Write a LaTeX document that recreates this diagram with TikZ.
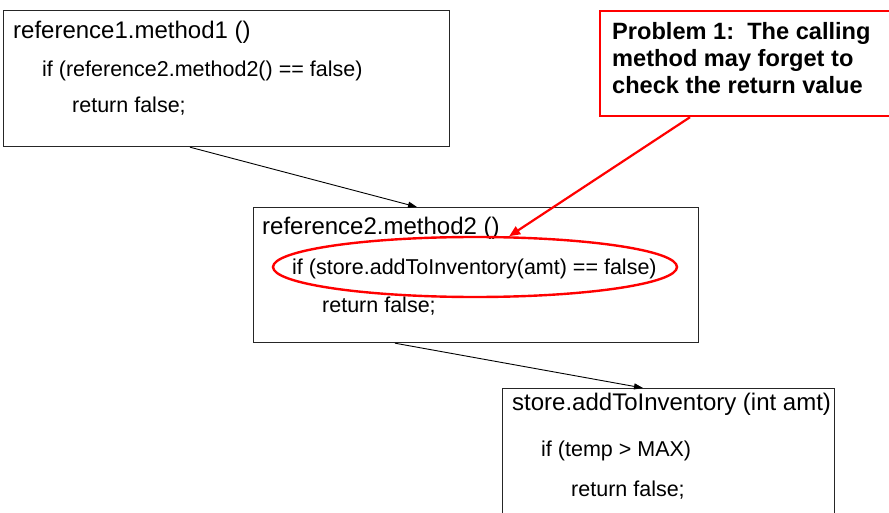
\documentclass[tikz,border=0pt]{standalone}
\usepackage{fontspec}
\setmainfont{Liberation Sans}
\usetikzlibrary{shapes.geometric,arrows.meta}
\begin{document}
\begin{tikzpicture}[x=1pt,y=-1pt,
  codebox/.style={draw=black!85, line width=1.2pt, anchor=north west, inner sep=0pt, rectangle},
  probbox/.style={draw=red, line width=2.2pt, anchor=north west, inner sep=0pt, rectangle},
  headtxt/.style={anchor=base west, inner sep=0pt, font=\fontsize{24}{28}\selectfont},
  codetxt/.style={anchor=base west, inner sep=0pt, font=\fontsize{21.5}{26}\selectfont},
  probtxt/.style={anchor=base west, inner sep=0pt, font=\fontsize{23.6}{28}\selectfont\bfseries},
  callarr/.style={draw=black, line width=0.9pt, -{Triangle[length=9pt,width=6pt]}},
  redarr/.style={draw=red, line width=2.2pt, -{Triangle[length=11pt,width=9pt]}},
  ring/.style={ellipse, draw=red, line width=2.4pt, inner sep=0pt}
]
\useasboundingbox (0,0) rectangle (889,513);
% boxes
\node[codebox, minimum width=446pt, minimum height=136pt] (b1) at (3,10) {};
\node[codebox, minimum width=445pt, minimum height=135pt] (b2) at (253,207) {};
\node[codebox, minimum width=332pt, minimum height=140pt] (b3) at (502,388) {};
\node[probbox, minimum width=300pt, minimum height=105pt] (pb) at (599,10) {};
% box 1 text
\node[headtxt] (b1h) at (13,39) {reference1.method1 ()};
\node[codetxt] (b1a) at (42,77) {if (reference2.method2() == false)};
\node[codetxt] (b1b) at (72,113) {return false;};
% box 2 text
\node[headtxt] (b2h) at (262,235) {reference2.method2 ()};
\node[codetxt] (b2a) at (292,275) {if (store.addToInventory(amt) == false)};
\node[codetxt] (b2b) at (322,312) {return false;};
% box 3 text
\node[headtxt] (b3h) at (512,410) {store.addToInventory (int amt)};
\node[codetxt] (b3a) at (541,456) {if (temp > MAX)};
\node[codetxt] (b3b) at (571,496) {return false;};
% problem text
\node[probtxt] (p1) at (612,40) {Problem 1:\ \ The calling};
\node[probtxt] (p2) at (612,67) {method may forget to};
\node[probtxt] (p3) at (612,94) {check the return value};
% ellipse
\node[ring, minimum width=404pt, minimum height=60pt] (ell) at (475,267) {};
% connectors
\draw[callarr] ([xshift=187pt]b1.south west) -- ([xshift=164pt]b2.north west);
\draw[callarr] ([xshift=142pt]b2.south west) -- ([xshift=141pt]b3.north west);
\draw[redarr] ([xshift=91pt]pb.south west) -- (ell.42);
\end{tikzpicture}
\end{document}
